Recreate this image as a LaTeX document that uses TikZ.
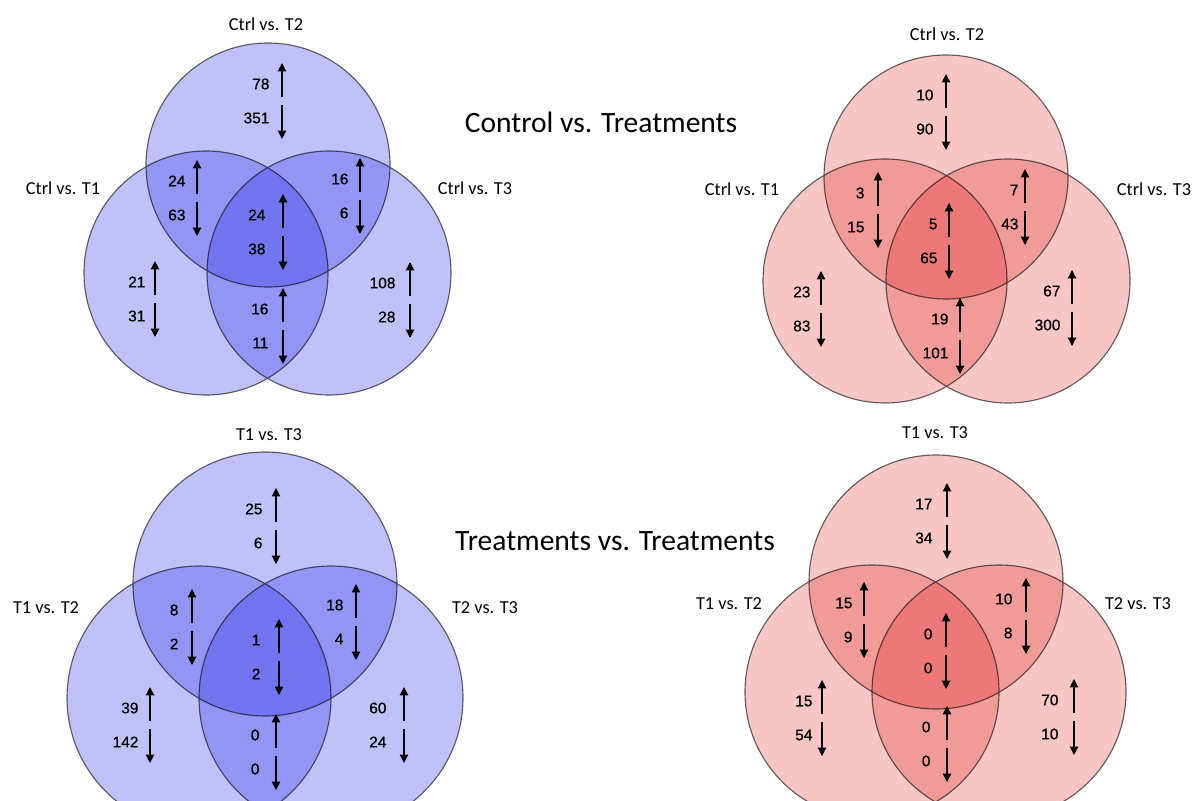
\documentclass[tikz,border=0pt]{standalone}
\usepackage{fontspec}
\setmainfont{Carlito}
\newfontfamily\numfont[FakeBold=0.6]{Liberation Sans}
\usetikzlibrary{arrows.meta}

\definecolor{vennblue}{RGB}{27,34,230}
\definecolor{vennred}{RGB}{220,10,5}

% two counts with their up / down arrows: name, number x, arrow x, middle y, up, down
\newcommand{\updown}[6]{%
  \node[num] (#1u) at (#2,#4-17) {#5};
  \node[num] (#1d) at (#2,#4+17) {#6};
  \draw[->] (#3,#4-4) -- (#3,#4-38);
  \draw[->] (#3,#4+4) -- (#3,#4+38);
}

\begin{document}
\begin{tikzpicture}[x=0.025cm, y=-0.025cm,
    blueset/.style={fill=vennblue, fill opacity=0.28},
    redset/.style={fill=vennred, fill opacity=0.23},
    rim/.style={draw=black, draw opacity=0.6, line width=0.8pt},
    num/.style={font=\numfont\fontsize{11}{13}\selectfont, anchor=east, inner sep=0pt},
    setlabel/.style={font=\fontsize{13}{15}\selectfont},
    title/.style={font=\fontsize{21}{25}\selectfont},
    >={Triangle[length=6pt,width=6pt]}, line width=0.8pt]

    \useasboundingbox (0,0) rectangle (1200,800);
    \clip (0,0) rectangle (1200,800);

    % control vs. treatments, blue
    \fill[blueset] (268,165) circle[radius=122];
    \fill[blueset] (206,273) circle[radius=122];
    \fill[blueset] (329,273) circle[radius=122];
    \draw[rim] (268,165) circle[radius=122] (206,273) circle[radius=122]
        (329,273) circle[radius=122];

    % control vs. treatments, red
    \fill[redset] (946,177) circle[radius=122];
    \fill[redset] (885,281) circle[radius=122];
    \fill[redset] (1008,281) circle[radius=122];
    \draw[rim] (946,177) circle[radius=122] (885,281) circle[radius=122]
        (1008,281) circle[radius=122];

    % treatments vs. treatments, blue
    \fill[blueset] (265,584) circle[radius=132];
    \fill[blueset] (199,698) circle[radius=132];
    \fill[blueset] (331,698) circle[radius=132];
    \draw[rim] (265,584) circle[radius=132] (199,698) circle[radius=132]
        (331,698) circle[radius=132];

    % treatments vs. treatments, red
    \fill[redset] (936,582) circle[radius=127];
    \fill[redset] (872,692) circle[radius=127];
    \fill[redset] (999,692) circle[radius=127];
    \draw[rim] (936,582) circle[radius=127] (872,692) circle[radius=127]
        (999,692) circle[radius=127];

    \node[title] (ctrltitle) at (601,122) {Control vs. Treatments};
    \node[title] (treattitle) at (615,541) {Treatments vs. Treatments};

    \node[setlabel] (tlT2) at (266,24) {Ctrl vs. T2};
    \node[setlabel] (tlT1) at (63,188) {Ctrl vs. T1};
    \node[setlabel] (tlT3) at (475,188) {Ctrl vs. T3};
    \node[setlabel] (trT2) at (947,34) {Ctrl vs. T2};
    \node[setlabel] (trT1) at (742,189) {Ctrl vs. T1};
    \node[setlabel] (trT3) at (1154,189) {Ctrl vs. T3};
    \node[setlabel] (blT13) at (269,435) {T1 vs. T3};
    \node[setlabel] (blT12) at (46,608) {T1 vs. T2};
    \node[setlabel] (blT23) at (485,608) {T2 vs. T3};
    \node[setlabel] (brT13) at (935,433) {T1 vs. T3};
    \node[setlabel] (brT12) at (729,604) {T1 vs. T2};
    \node[setlabel] (brT23) at (1138,604) {T2 vs. T3};

    \updown{tla}{270}{282}{101}{78}{351}
    \updown{tlb}{186}{197}{198}{24}{63}
    \updown{tlc}{266}{283}{232}{24}{38}
    \updown{tld}{349}{360}{196}{16}{6}
    \updown{tle}{146}{155}{299}{21}{31}
    \updown{tlf}{269}{283}{326}{16}{11}
    \updown{tlg}{396}{410}{300}{108}{28}

    \updown{tra}{934}{946}{112}{10}{90}
    \updown{trb}{865}{878}{210}{3}{15}
    \updown{trc}{938}{949}{241}{5}{65}
    \updown{trd}{1019}{1025}{207}{7}{43}
    \updown{tre}{811}{821}{309}{23}{83}
    \updown{trf}{949}{960}{336}{19}{101}
    \updown{trg}{1061}{1072}{308}{67}{300}

    \updown{bla}{263}{276}{526}{25}{6}
    \updown{blb}{179}{192}{627}{8}{2}
    \updown{blc}{261}{279}{657}{1}{2}
    \updown{bld}{344}{356}{622}{18}{4}
    \updown{ble}{139}{150}{725}{39}{142}
    \updown{blf}{260}{276}{752}{0}{0}
    \updown{blg}{387}{404}{725}{60}{24}

    \updown{bra}{933}{947}{521}{17}{34}
    \updown{brb}{853}{864}{620}{15}{9}
    \updown{brc}{933}{946}{651}{0}{0}
    \updown{brd}{1013}{1026}{616}{10}{8}
    \updown{bre}{813}{822}{718}{15}{54}
    \updown{brf}{931}{947}{744}{0}{0}
    \updown{brg}{1059}{1074}{717}{70}{10}
\end{tikzpicture}
\end{document}
